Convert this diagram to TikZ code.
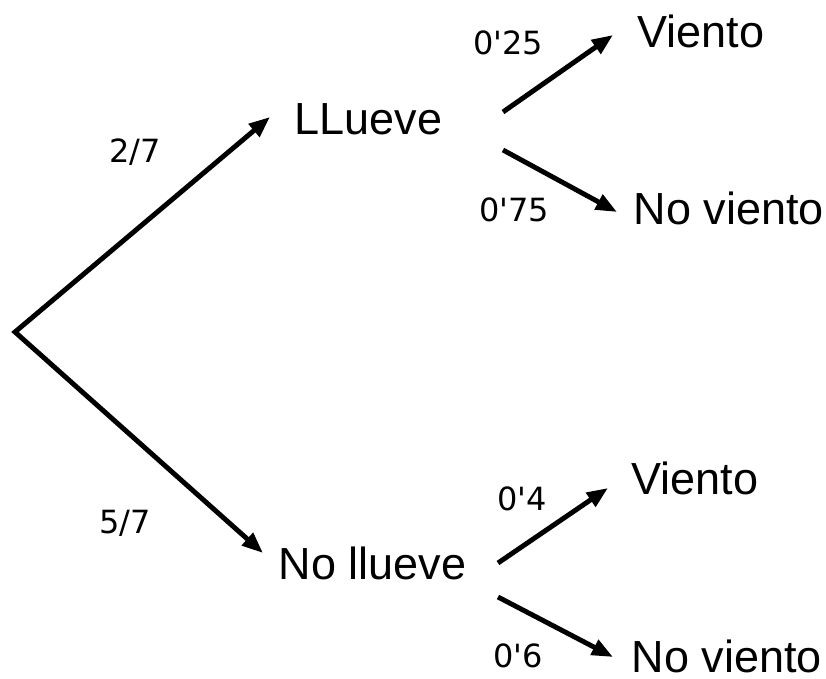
\documentclass[tikz,border=0pt]{standalone}
\usepackage{fontspec}
\setmainfont{Liberation Sans}
\newfontfamily\probfont{DejaVu Sans}
\usetikzlibrary{arrows.meta, calc}

\begin{document}
\begin{tikzpicture}[
  evento/.style={anchor=base west, inner sep=0pt, font=\fontsize{12.8}{15}\selectfont},
  prob/.style={anchor=base, inner sep=0pt, font=\probfont\fontsize{9.1}{11}\selectfont},
  flecha/.style={line width=1.4pt, -{Triangle[length=6pt,width=4.6pt]}}
]
\useasboundingbox (0,0) rectangle (8.26,-6.79);
\coordinate (root) at (0.15,-3.32);

% Primer nivel
\node[evento] (ll) at (2.94,-1.35) {LLueve};
\node[evento] (nl) at (2.78,-5.79) {No llueve};
\draw[line width=1.4pt, {Triangle[length=6pt,width=4.6pt]}-{Triangle[length=6pt,width=4.6pt]}]
  ($(ll.base west)+(-0.24,0.18)$) -- (root) -- ($(nl.base west)+(-0.15,0.26)$);
\node[prob] (p27) at (1.35,-1.63) {2/7};
\node[prob] (p57) at (1.25,-5.33) {5/7};

% Rama LLueve
\node[evento] (v1) at (6.37,-0.48) {Viento};
\node[evento] (n1) at (6.33,-2.25) {No viento};
\draw[flecha] ($(ll.base west)+(2.09,0.23)$) -- ($(v1.base west)+(-0.24,0.13)$);
\draw[flecha] ($(ll.base west)+(2.09,-0.15)$) -- ($(n1.base west)+(-0.16,0.13)$);
\node[prob] (p25) at (5.08,-0.55) {0\textquotesingle25};
\node[prob] (p75) at (5.14,-2.22) {0\textquotesingle75};

% Rama No llueve
\node[evento] (v2) at (6.31,-4.94) {Viento};
\node[evento] (n2) at (6.31,-6.72) {No viento};
\draw[flecha] ($(nl.base west)+(2.20,0.16)$) -- ($(v2.base west)+(-0.23,0.06)$);
\draw[flecha] ($(nl.base west)+(2.20,-0.18)$) -- ($(n2.base west)+(-0.18,0.15)$);
\node[prob] (p4) at (5.22,-5.10) {0\textquotesingle4};
\node[prob] (p6) at (5.18,-6.67) {0\textquotesingle6};
\end{tikzpicture}
\end{document}
